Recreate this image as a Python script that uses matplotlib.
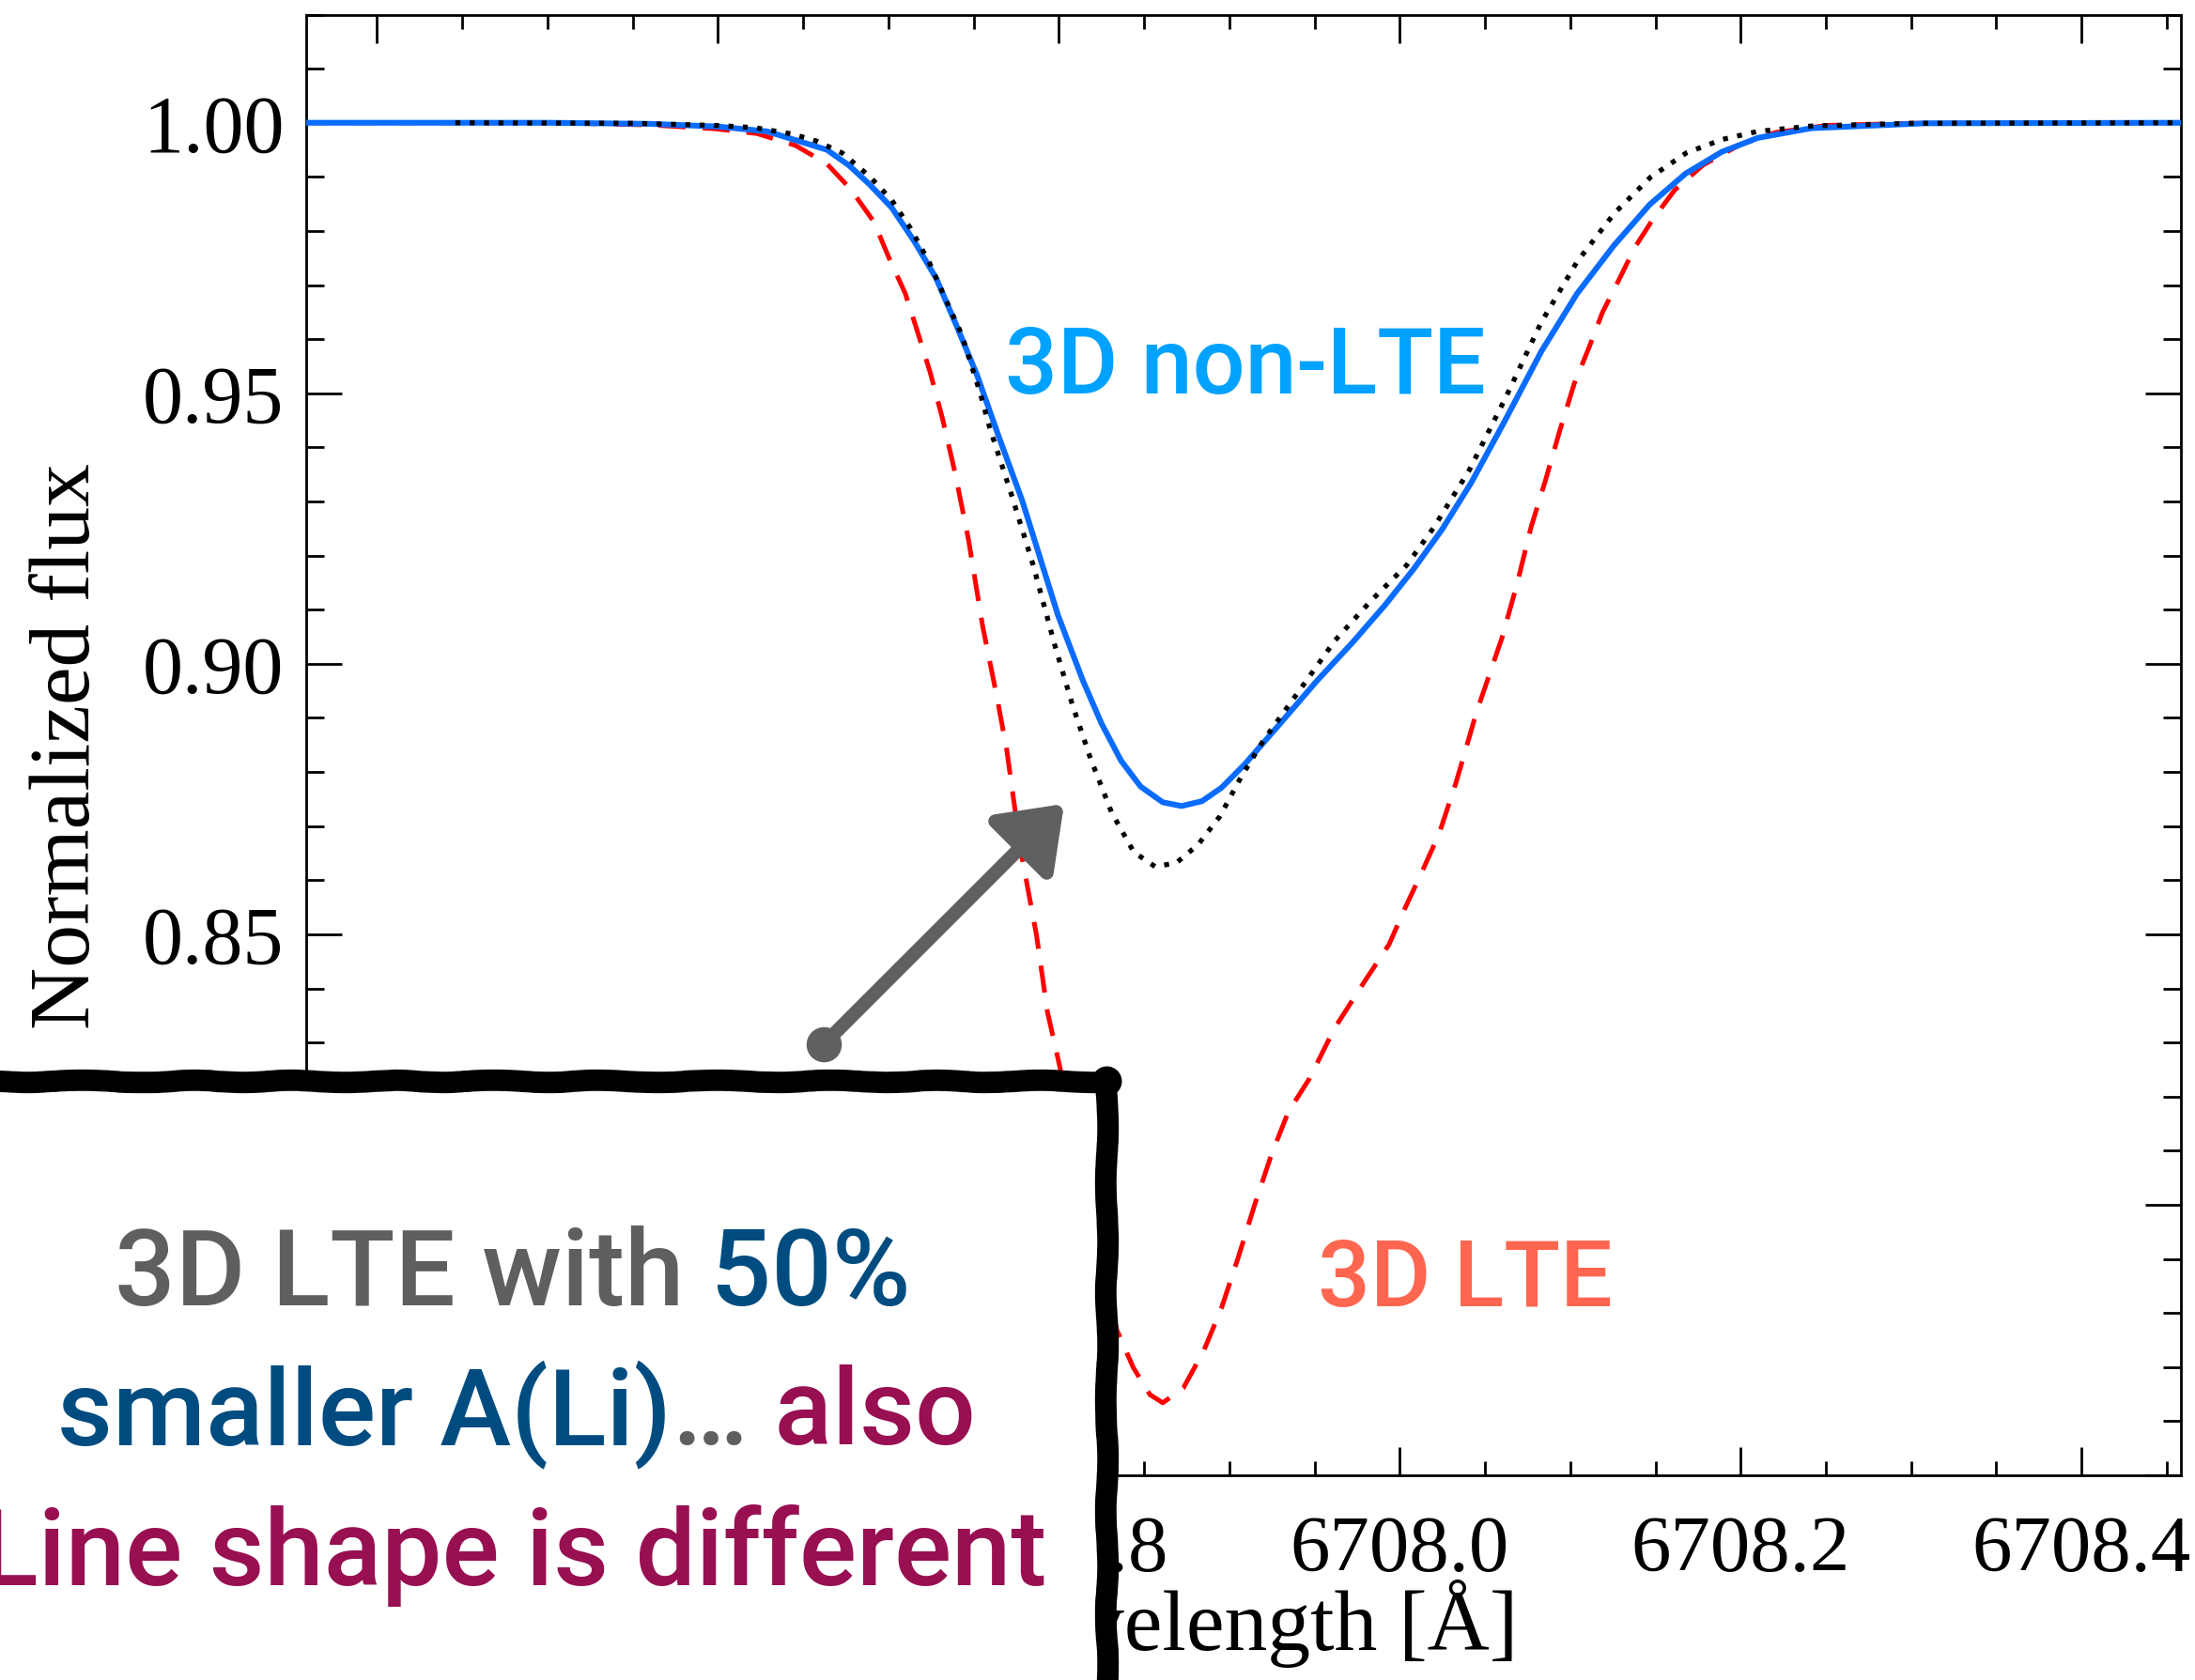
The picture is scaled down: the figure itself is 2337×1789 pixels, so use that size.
import matplotlib
matplotlib.use("Agg")
import matplotlib.pyplot as plt
from matplotlib.ticker import MultipleLocator, FormatStrFormatter
from matplotlib.patches import Rectangle, FancyArrowPatch
from matplotlib.lines import Line2D
from matplotlib import font_manager

# ---------------- data ----------------
wave_nlte = [6707.358, 6707.50, 6707.56, 6707.60, 6707.629, 6707.664, 6707.677, 6707.689,
             6707.702, 6707.715, 6707.728, 6707.740, 6707.752, 6707.765, 6707.7785, 6707.7996,
             6707.814, 6707.825, 6707.8365, 6707.848, 6707.861, 6707.872, 6707.884, 6707.8955,
             6707.909, 6707.930, 6707.951, 6707.9725, 6707.9915, 6708.0084, 6708.025, 6708.042,
             6708.062, 6708.083, 6708.104, 6708.1256, 6708.1467, 6708.1677, 6708.1888, 6708.210,
             6708.2416, 6708.3085, 6708.458]
flux_nlte = [1.0000, 1.0000, 0.9998, 0.9993, 0.9984, 0.9950, 0.9921, 0.9886,
             0.9843, 0.9782, 0.9713, 0.9625, 0.9534, 0.9418, 0.9302, 0.9089,
             0.8970, 0.8890, 0.8821, 0.8773, 0.8744, 0.8737, 0.8746, 0.8771,
             0.8814, 0.8890, 0.8967, 0.9040, 0.9109, 0.9176, 0.9249, 0.9335,
             0.9451, 0.9577, 0.9684, 0.9773, 0.9849, 0.9906, 0.9946, 0.9972,
             0.9990, 0.9999, 1.0000]

wave_lte = [6707.358, 6707.50, 6707.56, 6707.598, 6707.623, 6707.6456, 6707.664, 6707.678,
            6707.6915, 6707.700, 6707.710, 6707.717, 6707.7245, 6707.7318, 6707.739, 6707.747,
            6707.7553, 6707.7638, 6707.7695, 6707.7775, 6707.787, 6707.7933, 6707.7994, 6707.810,
            6707.820, 6707.828, 6707.834, 6707.8437, 6707.8535, 6707.861, 6707.873, 6707.885,
            6707.8953, 6707.905, 6707.915, 6707.925, 6707.9347, 6707.947, 6707.9617, 6707.979,
            6707.9937, 6708.0035, 6708.013, 6708.023, 6708.033, 6708.045, 6708.060, 6708.0687,
            6708.077, 6708.0855, 6708.094, 6708.1024, 6708.111, 6708.119, 6708.1277, 6708.138,
            6708.1488, 6708.1614, 6708.178, 6708.1994, 6708.2204, 6708.250, 6708.300, 6708.458]
flux_lte = [1.0000, 1.0000, 0.9996, 0.9989, 0.9980, 0.9958, 0.9924, 0.9877,
            0.9817, 0.9753, 0.9684, 0.9615, 0.9539, 0.9453, 0.9355, 0.9230,
            0.9070, 0.8937, 0.8840, 0.8658, 0.8497, 0.8357, 0.8272, 0.8120,
            0.7970, 0.7850, 0.7769, 0.7699, 0.7649, 0.7634, 0.7661, 0.7730,
            0.7808, 0.7900, 0.8001, 0.8095, 0.8172, 0.8233, 0.8326, 0.8411,
            0.8481, 0.8551, 0.8615, 0.8685, 0.8780, 0.8910, 0.9048, 0.9146,
            0.9252, 0.9339, 0.9432, 0.9518, 0.9584, 0.9650, 0.9704, 0.9770,
            0.9823, 0.9876, 0.9922, 0.9959, 0.9982, 0.9995, 0.9999, 1.0000]

wave_lte_low = [6707.446, 6707.55, 6707.60, 6707.6217, 6707.644, 6707.658, 6707.673, 6707.689,
                6707.702, 6707.713, 6707.724, 6707.733, 6707.743, 6707.754, 6707.7596, 6707.772,
                6707.785, 6707.7975, 6707.808, 6707.8186, 6707.831, 6707.844, 6707.8565, 6707.869,
                6707.8818, 6707.8945, 6707.907, 6707.9198, 6707.941, 6707.962, 6707.983, 6708.004,
                6708.020, 6708.041, 6708.062, 6708.083, 6708.104, 6708.126, 6708.147, 6708.168,
                6708.189, 6708.210, 6708.2416, 6708.300, 6708.458]
flux_lte_low = [1.0000, 0.9999, 0.9995, 0.9991, 0.9979, 0.9966, 0.9944, 0.9901,
                0.9857, 0.9805, 0.9742, 0.9678, 0.9609, 0.9499, 0.9435, 0.9315,
                0.9182, 0.9036, 0.8924, 0.8825, 0.8725, 0.8652, 0.8625, 0.8632,
                0.8666, 0.8718, 0.8791, 0.8857, 0.8950, 0.9043, 0.9116, 0.9182,
                0.9252, 0.9359, 0.9491, 0.9631, 0.9743, 0.9833, 0.9899, 0.9944,
                0.9969, 0.9984, 0.9994, 0.9999, 1.0000]

x_limits = (6707.3585, 6708.458)
y_limits = (0.75, 1.02)
x_major, x_minor = 0.2, 0.05
y_major, y_minor = 0.05, 0.01

label_nlte = "3D non-LTE"
label_lte = "3D LTE"
box_lines = [
    [("3D LTE with", "#5f5f5f"), (" 50%", "#004c80")],
    [("smaller A(Li)", "#004c80"), ("\u2026", "#5f5f5f"), (" also", "#980f52")],
    [("Line shape is different", "#980f52")],
]

# ---------------- figure ----------------
W, H = 2337, 1790
fig = plt.figure(figsize=(W / 100, H / 100), dpi=100)
fonts = font_manager.fontManager.ttflist
names = {f.name for f in fonts}
serif = "Liberation Serif" if "Liberation Serif" in names else "DejaVu Serif"
sans = "Roboto" if "Roboto" in names else "DejaVu Sans"
has_medium = any(f.name == sans and f.weight in (500, "medium") and f.style == "normal"
                 for f in fonts)
sans_weight = 500 if has_medium else "bold"

L, R, T, B = 326, 2321.5, 16.5, 1572
ax = fig.add_axes([L / W, 1 - B / H, (R - L) / W, (B - T) / H])

ax.plot(wave_lte, flux_lte, color="#ff0000", lw=3.6, ls=(0, (5.8, 3.6)), zorder=2)
ax.plot(wave_nlte, flux_nlte, color="#0a6cff", lw=4.4, zorder=3)
ax.plot(wave_lte_low, flux_lte_low, color="black", lw=3.8, ls=(0, (1.0, 1.9)), zorder=4)

ax.set_xlim(*x_limits)
ax.set_ylim(*y_limits)
ax.xaxis.set_major_locator(MultipleLocator(x_major))
ax.xaxis.set_minor_locator(MultipleLocator(x_minor))
ax.yaxis.set_major_locator(MultipleLocator(y_major))
ax.yaxis.set_minor_locator(MultipleLocator(y_minor))
ax.xaxis.set_major_formatter(FormatStrFormatter("%.1f"))
ax.yaxis.set_major_formatter(FormatStrFormatter("%.2f"))

ax.tick_params(which="both", direction="in", top=True, right=True, width=2.0, color="black")
ax.tick_params(axis="y", which="major", length=27.5, pad=17, labelsize=62)
ax.tick_params(axis="y", which="minor", length=13.5)
ax.tick_params(axis="x", which="major", length=21.5, pad=30, labelsize=61)
ax.tick_params(axis="x", which="minor", length=10.8)
for lab in ax.get_xticklabels() + ax.get_yticklabels():
    lab.set_fontfamily(serif)
for sp in ax.spines.values():
    sp.set_linewidth(2.0)

ax.set_xlabel("Wavelength [\u00c5]", fontsize=66, family=serif)
ax.xaxis.label.set_va("baseline")
ax.xaxis.set_label_coords(0.5, (B - 1757) / (B - T))
ax.set_ylabel("Normalized flux", fontsize=66, family=serif)
ax.yaxis.set_label_coords((114 - L) / (R - L), 0.5)

# curve labels
fig.text(1326 / W, 1 - 419 / H, label_nlte, color="#00a2ff", fontsize=71,
         fontweight=sans_weight, family=sans, ha="center", va="baseline", zorder=5)
fig.text(1560 / W, 1 - 1391 / H, label_lte, color="#ff6650", fontsize=71,
         fontweight=sans_weight, family=sans, ha="center", va="baseline", zorder=5)

# hand-drawn box covering lower left
box_right = 1178 / W
box_top = 1 - 1152 / H
fill = Rectangle((-0.1, -0.1), box_right + 0.1, box_top + 0.1, transform=fig.transFigure,
                 facecolor="white", edgecolor="none", zorder=10)
fig.add_artist(fill)
border = Line2D([-0.05, box_right, box_right], [box_top, box_top, -0.05],
                transform=fig.transFigure, color="black", lw=16.5,
                solid_joinstyle="round", solid_capstyle="round", zorder=11)
border.set_sketch_params(1.2, 160, 4)
fig.add_artist(border)
fig.add_artist(Line2D([box_right], [box_top], transform=fig.transFigure, marker="o",
                      ms=22, color="black", lw=0, zorder=11))

# arrow
tail = (877 / W, 1 - 1113 / H)
head = (1133 / W, 1 - 857 / H)
arrow = FancyArrowPatch(tail, head, transform=fig.transFigure,
                        arrowstyle="-|>,head_length=38,head_width=28", mutation_scale=1,
                        lw=10.5, color="#606060", capstyle="round", joinstyle="round",
                        shrinkA=0, shrinkB=0, zorder=12)
fig.add_artist(arrow)
fig.add_artist(Line2D([tail[0]], [tail[1]], transform=fig.transFigure, marker="o",
                      ms=26, color="#606060", lw=0, zorder=12))

# multi-coloured text in box
renderer = fig.canvas.get_renderer()
centers = [546, 550, 547]
baselines = [1390, 1538, 1688]
for parts, cx, by in zip(box_lines, centers, baselines):
    texts = [fig.text(0, 1 - by / H, s, color=c, fontsize=82, fontweight=sans_weight,
                      family=sans, ha="left", va="baseline", zorder=13)
             for s, c in parts]
    widths = [t.get_window_extent(renderer).width for t in texts]
    x = cx - sum(widths) / 2
    for t, w in zip(texts, widths):
        t.set_x(x / W)
        x += w

fig.savefig("out.png", dpi=100, facecolor="white")
